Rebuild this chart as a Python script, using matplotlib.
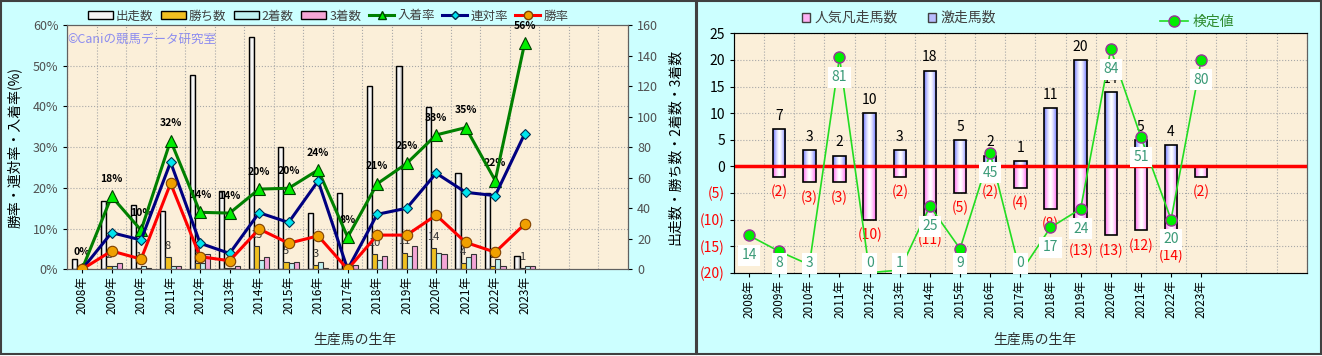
import numpy as np
import matplotlib
matplotlib.use("Agg")
import matplotlib.pyplot as plt
from matplotlib.patches import Rectangle, Patch
from matplotlib.lines import Line2D
from matplotlib.colors import LinearSegmentedColormap

plt.rcParams['font.family'] = ['Noto Sans CJK JP', 'DejaVu Sans']

YEARS = ["2008年", "2009年", "2010年", "2011年", "2012年", "2013年", "2014年", "2015年",
         "2016年", "2017年", "2018年", "2019年", "2020年", "2021年", "2022年", "2023年"]
N_SLOTS = 19

# left chart: counts (right axis) and rates (left axis, %)
SHUSSO = [7, 45, 42, 38, 127, 51, 152, 80, 37, 50, 120, 133, 106, 63, 50, 9]
WINS = [0, 2, 1, 8, 4, 1, 15, 5, 3, 0, 10, 11, 14, 4, 2, 1]
SECOND = [0, 2, 2, 2, 4, 1, 6, 4, 5, 0, 6, 9, 11, 8, 7, 2]
THIRD = [0, 4, 1, 2, 10, 2, 8, 5, 1, 3, 9, 15, 10, 10, 2, 2]
PLACE_RATE = [0, 17.9, 9.6, 31.6, 14.0, 13.8, 19.7, 19.9, 24.4, 7.9, 21.0, 26.0, 33.0, 34.8, 21.8, 55.6]
RENTAI_RATE = [0, 9.0, 7.2, 26.3, 6.4, 3.9, 13.9, 11.5, 21.7, 0, 13.5, 15.0, 23.6, 18.9, 18.1, 33.3]
WIN_RATE = [0, 4.5, 2.5, 21.1, 3.1, 2.1, 9.9, 6.4, 8.2, 0, 8.4, 8.4, 13.3, 6.6, 4.2, 11.1]

# right chart
GEKISO = [0, 7, 3, 2, 10, 3, 18, 5, 2, 1, 11, 20, 14, 5, 4, 0]
BONSO = [0, 2, 3, 3, 10, 2, 11, 5, 2, 4, 8, 13, 13, 12, 14, 2]
KENTEI = [14, 8, 3, 81, 0, 1, 25, 9, 45, 0, 17, 24, 84, 51, 20, 80]

W, H = 1322, 356
BG = "#ccffff"
PLOT_BG = "#fbefd9"
GRID = dict(color="#a8a8a8", linestyle=":", linewidth=0.8)


def shade(ax, bars, rgb):
    cmap = LinearSegmentedColormap.from_list("s", ["white", rgb])
    grad = (np.abs(np.linspace(-1, 1, 64)) ** 1.5)[None, :]
    for b in bars:
        if b.get_height() == 0:
            continue
        x0, y0 = b.get_x(), b.get_y()
        im = ax.imshow(grad, extent=[x0, x0 + b.get_width(), y0, y0 + b.get_height()],
                       aspect="auto", cmap=cmap, vmin=0, vmax=1,
                       zorder=b.get_zorder() - 0.01, interpolation="bilinear")
        im.set_clip_path(b)
        b.set_facecolor("none")


fig = plt.figure(figsize=(W / 100, H / 100), dpi=100, facecolor="white")
fig.patches.append(Rectangle((0.5 / W, 2 / H), 695 / W, 353 / H, transform=fig.transFigure,
                             fc=BG, ec="#404040", lw=1.5, zorder=-10))
fig.patches.append(Rectangle((697 / W, 2 / H), 624 / W, 353 / H, transform=fig.transFigure,
                             fc=BG, ec="#404040", lw=1.5, zorder=-10))

# ---------------- left chart ----------------
x = np.arange(len(YEARS))
ax_b = fig.add_axes([67.3 / W, 1 - 269.3 / H, 560.7 / W, 244.3 / H])
ax_b.set_facecolor(PLOT_BG)
bw = 0.175
b1 = ax_b.bar(x - 1.5 * bw, SHUSSO, bw, color="#f4f4f4", edgecolor="black", lw=1, zorder=2)
ax_b.bar(x - 0.5 * bw, WINS, bw, color="#f0c020", edgecolor="#333333", lw=0.8, zorder=2)
ax_b.bar(x + 0.5 * bw, SECOND, bw, color="#bff2f2", edgecolor="#333333", lw=0.8, zorder=2)
ax_b.bar(x + 1.5 * bw, THIRD, bw, color="#f4a6d6", edgecolor="#333333", lw=0.8, zorder=2)
shade(ax_b, b1, "#a0a0a0")
for xi, w in zip(x, WINS):
    if w > 0:
        ax_b.annotate(str(w), (xi - 0.5 * bw, w), xytext=(0, 8), textcoords="offset points",
                      ha="center", va="center", fontsize=8, color="#333333", zorder=3)
ax_b.set_xlim(-0.5, N_SLOTS - 0.5)
ax_b.set_ylim(0, 160)
for gy in np.linspace(0, 160, 7)[1:-1]:
    ax_b.axhline(gy, zorder=0, **GRID)
ax_b.set_xticks(np.arange(-0.5, N_SLOTS, 1), minor=True)
ax_b.grid(which="minor", axis="x", zorder=0, **GRID)
ax_b.set_xticks(x)
ax_b.set_xticklabels(YEARS, rotation=90, fontsize=8.5)
ax_b.tick_params(axis="x", which="minor", length=0)
ax_b.tick_params(axis="x", which="major", length=3, pad=2)
for s in ax_b.spines.values():
    s.set_color("#606060")
ax_b.text(0.0, 0.94, "©Caniの競馬データ研究室", transform=ax_b.transAxes, color="#8c8cf0",
          fontsize=9, va="center", ha="left", zorder=1)

ax_l = ax_b.twinx()
ax_b.yaxis.tick_right()
ax_b.yaxis.set_label_position("right")
ax_l.yaxis.tick_left()
ax_l.yaxis.set_label_position("left")
ax_b.set_yticks(np.arange(0, 161, 20))
ax_b.tick_params(axis="y", labelsize=9, labelcolor="#505050", length=3)
ax_b.set_ylabel("出走数・勝ち数・2着数・3着数", rotation=90, fontsize=10, labelpad=7)

ax_l.plot(x, PLACE_RATE, color="#008000", lw=2.2, marker="^", ms=9, mfc="#00ee00", mec="#004000",
          mew=0.8, zorder=5)
ax_l.plot(x, RENTAI_RATE, color="#000080", lw=2.2, marker="D", ms=5.5, mfc="#00e5ee", mec="#003050",
          mew=0.8, zorder=6)
ax_l.plot(x, WIN_RATE, color="#ff0000", lw=2.2, marker="o", ms=7.5, mfc="#f0a000", mec="#804000",
          mew=0.8, zorder=7)
for xi, p in zip(x, PLACE_RATE):
    ax_l.annotate(f"{p:.0f}%", (xi, p), xytext=(0, 12.5), textcoords="offset points",
                  ha="center", va="center", fontsize=7.5, fontweight="bold", color="black")
ax_l.set_ylim(0, 60)
ax_l.set_yticks(np.arange(0, 61, 10))
ax_l.set_yticklabels([f"{v}%" for v in range(0, 61, 10)])
ax_l.tick_params(axis="y", labelsize=9, labelcolor="#505050", length=3)
ax_l.set_ylabel("勝率・連対率・入着率(%)", fontsize=10, labelpad=8)
for s in ax_l.spines.values():
    s.set_color("#606060")

left_handles = [
    Patch(fc="#f4f4f4", ec="black"), Patch(fc="#f0c020", ec="black"),
    Patch(fc="#bff2f2", ec="black"), Patch(fc="#f4a6d6", ec="black"),
    Line2D([], [], color="#008000", lw=2.2, marker="^", ms=6, mfc="#00ee00", mec="#004000"),
    Line2D([], [], color="#000080", lw=2.2, marker="D", ms=4, mfc="#00e5ee", mec="#003050"),
    Line2D([], [], color="#ff0000", lw=2.2, marker="o", ms=6, mfc="#f0a000", mec="#804000"),
]
fig.legend(left_handles, ["出走数", "勝ち数", "2着数", "3着数", "入着率", "連対率", "勝率"],
           loc="center", bbox_to_anchor=(328 / W, 1 - 16 / H), ncol=7, frameon=False,
           fontsize=9, handlelength=2.0, handleheight=0.55, handletextpad=0.25,
           columnspacing=0.6, labelcolor="#404040")
fig.text(355 / W, 1 - 340 / H, "生産馬の生年", ha="center", va="center", fontsize=10, color="#303030")

# ---------------- right chart ----------------
ax_r = fig.add_axes([734 / W, 1 - 272.7 / H, 572.7 / W, 239.4 / H])
ax_r.set_facecolor(PLOT_BG)
rw = 0.41
up = ax_r.bar(x, GEKISO, rw, color="#c8ccff", edgecolor="black", lw=1.2, zorder=2)
down = ax_r.bar(x, [-v for v in BONSO], rw, color="#ffc8f8", edgecolor="black", lw=1.2, zorder=2)
shade(ax_r, up, "#6870ff")
shade(ax_r, down, "#ff60f0")
ax_r.axhline(0, color="#ff0000", lw=2.5, zorder=3)
for xi, g, b in zip(x, GEKISO, BONSO):
    if g > 0:
        ax_r.annotate(str(g), (xi, g), xytext=(0, 9.5), textcoords="offset points",
                      ha="center", va="center", fontsize=10, color="black")
    if b > 0:
        ax_r.annotate(f"({b})", (xi, -b), xytext=(0, -11), textcoords="offset points",
                      ha="center", va="center", fontsize=10, color="#ff0000")
ax_r.set_xlim(-0.5, N_SLOTS - 0.5)
ax_r.set_ylim(-20, 25)
ax_r.set_yticks(np.arange(-20, 26, 5))
ax_r.set_yticklabels([f"({-v})" if v < 0 else str(v) for v in range(-20, 26, 5)])
for lab, v in zip(ax_r.get_yticklabels(), range(-20, 26, 5)):
    lab.set_color("#ff0000" if v < 0 else "black")
ax_r.tick_params(axis="y", labelsize=10, length=3)
ax_r.grid(axis="y", zorder=0, **GRID)
ax_r.set_xticks(np.arange(-0.5, N_SLOTS, 1), minor=True)
ax_r.grid(which="minor", axis="x", zorder=0, **GRID)
ax_r.set_xticks(x)
ax_r.set_xticklabels(YEARS, rotation=90, fontsize=8.5)
ax_r.tick_params(axis="x", which="minor", length=0)
ax_r.tick_params(axis="x", which="major", length=3, pad=2)
for s in ax_r.spines.values():
    s.set_color("#606060")

ax_k = ax_r.twinx()
ax_k.set_ylim(0, 90)
ax_k.set_yticks([])
ax_k.spines["right"].set_color("#606060")
ax_k.plot(x, KENTEI, color="#22dd22", lw=1.2, marker="o", ms=8, mfc="#00ee00", mec="#993399",
          mew=1, zorder=4)
for xi, v in zip(x, KENTEI):
    ax_k.text(xi, max(v - 7.5, 3.6), str(v), ha="center", va="center", fontsize=10,
              color="#3a9a78", zorder=6,
              bbox=dict(fc="white", ec="none", pad=2.5))

fig.legend([Patch(fc="#ffb0f4", ec="#404040"), Patch(fc="#b8bcff", ec="#404040")],
           ["人気凡走馬数", "激走馬数"], loc="center", bbox_to_anchor=(899 / W, 1 - 18 / H),
           ncol=2, frameon=False, fontsize=10, handlelength=0.6, handleheight=0.6,
           handletextpad=0.3, columnspacing=2.2, labelcolor="#404040")
fig.legend([Line2D([], [], color="#22dd22", lw=1.2, marker="o", ms=8, mfc="#00ee00", mec="#993399")],
           ["検定値"], loc="center", bbox_to_anchor=(1197 / W, 1 - 22 / H), frameon=False,
           fontsize=10, handlelength=2.0, handletextpad=0.3, labelcolor="#2e8b2e")
fig.text(1035 / W, 1 - 340 / H, "生産馬の生年", ha="center", va="center", fontsize=10, color="#303030")

fig.savefig("out.png", dpi=100)
